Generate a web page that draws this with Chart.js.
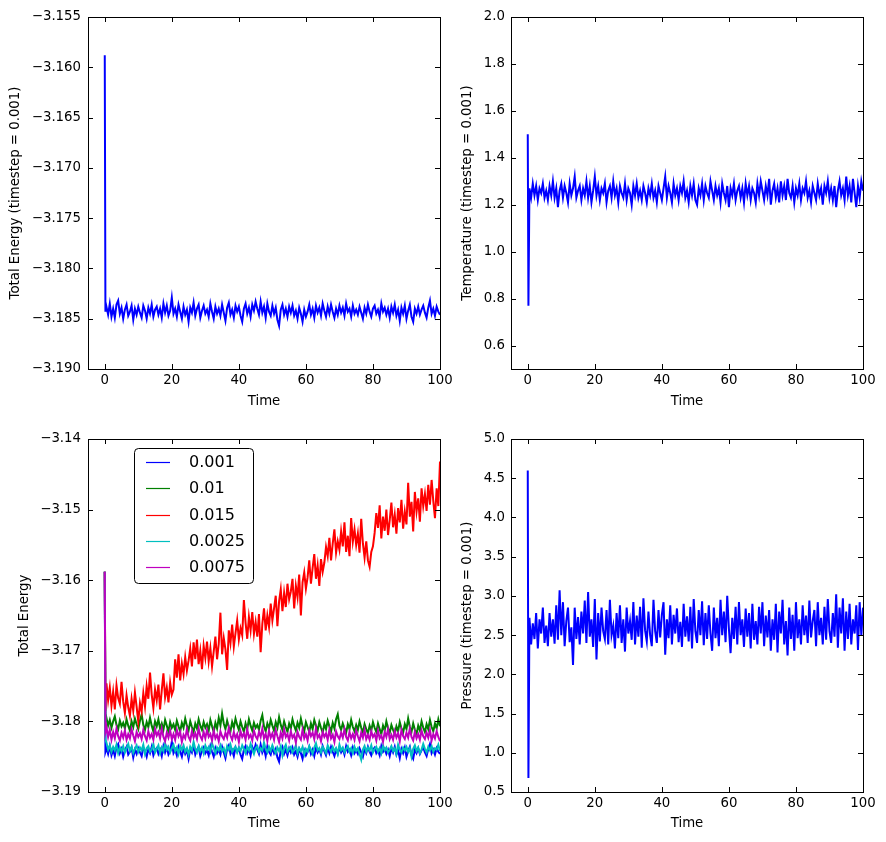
<!DOCTYPE html>
<html>
<head>
<meta charset="utf-8">
<script src="https://cdn.jsdelivr.net/npm/chart.js@4.4.0/dist/chart.umd.min.js"></script>
<style>
    html, body { margin: 0; padding: 0; background: #ffffff; }
    #wrap { position: relative; width: 886px; height: 842px; }
    #wrap canvas { position: absolute; left: 0; top: 0; }
</style>
</head>
<body>
<div id="wrap">
    <canvas id="energyChart" width="886" height="842"></canvas>
    <canvas id="tempChart" width="886" height="842"></canvas>
    <canvas id="compareChart" width="886" height="842"></canvas>
    <canvas id="pressureChart" width="886" height="842"></canvas>
</div>
<script>
// ================= data ======================
// sample times: the start spike, then every 0.5 time units
var startTimes = [0, 0.2];
var timeStep = 0.5;
var timeEnd = 100;

var xTicks = [0, 20, 40, 60, 80, 100];
var energyTicks = [-3.190, -3.185, -3.180, -3.175, -3.170, -3.165, -3.160, -3.155];
var tempTicks = [0.6, 0.8, 1.0, 1.2, 1.4, 1.6, 1.8, 2.0];
var compareTicks = [-3.19, -3.18, -3.17, -3.16, -3.15, -3.14];
var pressureTicks = [0.5, 1.0, 1.5, 2.0, 2.5, 3.0, 3.5, 4.0, 4.5, 5.0];

var timestepLabels = ['0.001', '0.01', '0.015', '0.0025', '0.0075'];

var energy0001 = [-3.1588, -3.1843,
    -3.1838, -3.1846, -3.1835, -3.1848, -3.1840, -3.1849, -3.1836, -3.1832, -3.1845, -3.1839,
    -3.1850, -3.1841, -3.1836, -3.1847, -3.1843, -3.1837, -3.1851, -3.1840, -3.1846, -3.1838,
    -3.1844, -3.1849, -3.1837, -3.1842, -3.1850, -3.1839, -3.1845, -3.1836, -3.1848, -3.1841,
    -3.1838, -3.1846, -3.1840, -3.1849, -3.1835, -3.1844, -3.1837, -3.1847, -3.1842, -3.1829,
    -3.1845, -3.1840, -3.1848, -3.1836, -3.1843, -3.1850, -3.1838, -3.1846, -3.1841, -3.1853,
    -3.1839, -3.1844, -3.1834, -3.1847, -3.1840, -3.1836, -3.1849, -3.1842, -3.1837, -3.1845,
    -3.1841, -3.1848, -3.1835, -3.1843, -3.1850, -3.1838, -3.1845, -3.1840, -3.1847, -3.1836,
    -3.1844, -3.1852, -3.1839, -3.1834, -3.1846, -3.1841, -3.1849, -3.1837, -3.1843, -3.1838,
    -3.1847, -3.1853, -3.1840, -3.1835, -3.1845, -3.1839, -3.1848, -3.1836, -3.1842, -3.1833,
    -3.1840, -3.1846, -3.1833, -3.1844, -3.1838, -3.1849, -3.1835, -3.1843, -3.1847, -3.1837,
    -3.1845, -3.1839, -3.1851, -3.1857, -3.1841, -3.1836, -3.1846, -3.1840, -3.1848, -3.1838,
    -3.1844, -3.1837, -3.1847, -3.1842, -3.1850, -3.1839, -3.1845, -3.1853, -3.1841, -3.1848,
    -3.1843, -3.1836, -3.1846, -3.1840, -3.1849, -3.1837, -3.1844, -3.1839, -3.1847, -3.1835,
    -3.1842, -3.1848, -3.1838, -3.1845, -3.1836, -3.1843, -3.1849, -3.1840, -3.1846, -3.1837,
    -3.1844, -3.1839, -3.1847, -3.1835, -3.1843, -3.1840, -3.1848, -3.1837, -3.1845, -3.1841,
    -3.1846, -3.1838, -3.1844, -3.1850, -3.1839, -3.1845, -3.1836, -3.1843, -3.1848, -3.1840,
    -3.1837, -3.1845, -3.1841, -3.1848, -3.1835, -3.1843, -3.1839, -3.1846, -3.1840, -3.1849,
    -3.1838, -3.1844, -3.1836, -3.1847, -3.1841, -3.1852, -3.1839, -3.1845, -3.1837, -3.1850,
    -3.1842, -3.1836, -3.1848, -3.1853, -3.1840, -3.1845, -3.1838, -3.1846, -3.1841, -3.1837,
    -3.1844, -3.1849, -3.1839, -3.1832, -3.1845, -3.1840, -3.1847, -3.1838, -3.1843, -3.1846];

var energy001 = [-3.1588, -3.1800,
    -3.1795, -3.1806, -3.1798, -3.1809, -3.1800, -3.1793, -3.1805, -3.1811, -3.1799, -3.1807,
    -3.1802, -3.1810, -3.1797, -3.1806, -3.1813, -3.1800, -3.1808, -3.1796, -3.1804, -3.1811,
    -3.1799, -3.1790, -3.1805, -3.1812, -3.1801, -3.1808, -3.1795, -3.1806, -3.1814, -3.1800,
    -3.1807, -3.1797, -3.1810, -3.1803, -3.1812, -3.1798, -3.1806, -3.1815, -3.1801, -3.1809,
    -3.1804, -3.1812, -3.1799, -3.1807, -3.1814, -3.1802, -3.1809, -3.1796, -3.1806, -3.1813,
    -3.1800, -3.1808, -3.1815, -3.1803, -3.1810, -3.1797, -3.1806, -3.1812, -3.1801, -3.1809,
    -3.1804, -3.1813, -3.1798, -3.1807, -3.1815, -3.1802, -3.1810, -3.1795, -3.1806, -3.1789,
    -3.1803, -3.1811, -3.1799, -3.1808, -3.1814, -3.1801, -3.1809, -3.1796, -3.1805, -3.1812,
    -3.1800, -3.1808, -3.1815, -3.1803, -3.1811, -3.1797, -3.1806, -3.1813, -3.1802, -3.1809,
    -3.1805, -3.1812, -3.1799, -3.1791, -3.1807, -3.1814, -3.1803, -3.1810, -3.1798, -3.1806,
    -3.1813, -3.1801, -3.1809, -3.1794, -3.1805, -3.1812, -3.1800, -3.1808, -3.1815, -3.1803,
    -3.1810, -3.1797, -3.1806, -3.1813, -3.1802, -3.1809, -3.1796, -3.1807, -3.1814, -3.1801,
    -3.1808, -3.1815, -3.1803, -3.1811, -3.1798, -3.1806, -3.1813, -3.1801, -3.1809, -3.1816,
    -3.1804, -3.1811, -3.1799, -3.1807, -3.1814, -3.1802, -3.1810, -3.1797, -3.1790, -3.1806,
    -3.1812, -3.1803, -3.1810, -3.1816, -3.1804, -3.1811, -3.1798, -3.1808, -3.1814, -3.1805,
    -3.1812, -3.1800, -3.1809, -3.1816, -3.1804, -3.1811, -3.1817, -3.1806, -3.1813, -3.1801,
    -3.1809, -3.1815, -3.1803, -3.1811, -3.1818, -3.1806, -3.1813, -3.1800, -3.1810, -3.1816,
    -3.1805, -3.1812, -3.1818, -3.1807, -3.1814, -3.1801, -3.1810, -3.1816, -3.1804, -3.1811,
    -3.1796, -3.1808, -3.1815, -3.1803, -3.1812, -3.1818, -3.1806, -3.1813, -3.1800, -3.1809,
    -3.1815, -3.1804, -3.1811, -3.1798, -3.1808, -3.1814, -3.1803, -3.1810, -3.1797, -3.1807];

var energy0015 = [-3.1588, -3.1785,
    -3.1746, -3.1770, -3.1752, -3.1778, -3.1758, -3.1783, -3.1749, -3.1767, -3.1775, -3.1744,
    -3.1772, -3.1788, -3.1763, -3.1780, -3.1792, -3.1768, -3.1785, -3.1759, -3.1779, -3.1800,
    -3.1774, -3.1786, -3.1760, -3.1779, -3.1750, -3.1768, -3.1731, -3.1762, -3.1781, -3.1755,
    -3.1770, -3.1748, -3.1783, -3.1756, -3.1732, -3.1766, -3.1752, -3.1773, -3.1745, -3.1762,
    -3.1755, -3.1712, -3.1738, -3.1705, -3.1742, -3.1718, -3.1733, -3.1709, -3.1728, -3.1714,
    -3.1697, -3.1722, -3.1688, -3.1712, -3.1684, -3.1719, -3.1700, -3.1726, -3.1693, -3.1710,
    -3.1687, -3.1715, -3.1696, -3.1722, -3.1701, -3.1680, -3.1712, -3.1690, -3.1646, -3.1705,
    -3.1682, -3.1698, -3.1727, -3.1671, -3.1689, -3.1663, -3.1694, -3.1675, -3.1657, -3.1684,
    -3.1668, -3.1678, -3.1628, -3.1660, -3.1683, -3.1652, -3.1671, -3.1645, -3.1676, -3.1659,
    -3.1680, -3.1648, -3.1702, -3.1662, -3.1640, -3.1671, -3.1650, -3.1666, -3.1633, -3.1657,
    -3.1640, -3.1622, -3.1665, -3.1630, -3.1613, -3.1644, -3.1618, -3.1638, -3.1605, -3.1627,
    -3.1616, -3.1598, -3.1640, -3.1608, -3.1624, -3.1592, -3.1650, -3.1603, -3.1589, -3.1612,
    -3.1596, -3.1572, -3.1605, -3.1583, -3.1563, -3.1598, -3.1579, -3.1608, -3.1570, -3.1588,
    -3.1575, -3.1553, -3.1566, -3.1540, -3.1572, -3.1548, -3.1528, -3.1561, -3.1545, -3.1557,
    -3.1531, -3.1552, -3.1518, -3.1560, -3.1537, -3.1566, -3.1512, -3.1545, -3.1528, -3.1550,
    -3.1534, -3.1561, -3.1513, -3.1548, -3.1568, -3.1545, -3.1572, -3.1581, -3.1560, -3.1552,
    -3.1533, -3.1505, -3.1526, -3.1494, -3.1541, -3.1510, -3.1530, -3.1500, -3.1536, -3.1515,
    -3.1490, -3.1525, -3.1507, -3.1534, -3.1498, -3.1518, -3.1486, -3.1527, -3.1503, -3.1521,
    -3.1462, -3.1510, -3.1489, -3.1531, -3.1475, -3.1503, -3.1484, -3.1517, -3.1470, -3.1495,
    -3.1478, -3.1502, -3.1465, -3.1493, -3.1458, -3.1488, -3.1512, -3.1470, -3.1495, -3.1432];

var energy00025 = [-3.1588, -3.1826,
    -3.1830, -3.1840, -3.1834, -3.1843, -3.1836, -3.1841, -3.1833, -3.1845, -3.1837, -3.1842,
    -3.1835, -3.1844, -3.1838, -3.1832, -3.1842, -3.1836, -3.1845, -3.1839, -3.1834, -3.1843,
    -3.1837, -3.1841, -3.1833, -3.1846, -3.1838, -3.1835, -3.1843, -3.1840, -3.1832, -3.1844,
    -3.1839, -3.1834, -3.1845, -3.1837, -3.1842, -3.1831, -3.1840, -3.1836, -3.1844, -3.1838,
    -3.1833, -3.1842, -3.1837, -3.1846, -3.1835, -3.1840, -3.1834, -3.1843, -3.1838, -3.1847,
    -3.1836, -3.1841, -3.1829, -3.1839, -3.1844, -3.1835, -3.1842, -3.1837, -3.1845, -3.1834,
    -3.1840, -3.1836, -3.1843, -3.1831, -3.1838, -3.1845, -3.1837, -3.1841, -3.1834, -3.1842,
    -3.1838, -3.1846, -3.1835, -3.1840, -3.1833, -3.1843, -3.1839, -3.1836, -3.1844, -3.1837,
    -3.1842, -3.1834, -3.1839, -3.1845, -3.1836, -3.1841, -3.1832, -3.1840, -3.1846, -3.1838,
    -3.1835, -3.1843, -3.1838, -3.1841, -3.1830, -3.1839, -3.1844, -3.1836, -3.1842, -3.1834,
    -3.1840, -3.1845, -3.1837, -3.1842, -3.1835, -3.1848, -3.1838, -3.1833, -3.1843, -3.1839,
    -3.1836, -3.1844, -3.1840, -3.1834, -3.1845, -3.1838, -3.1842, -3.1836, -3.1847, -3.1839,
    -3.1843, -3.1835, -3.1840, -3.1846, -3.1837, -3.1831, -3.1841, -3.1838, -3.1844, -3.1836,
    -3.1840, -3.1845, -3.1834, -3.1839, -3.1843, -3.1836, -3.1842, -3.1838, -3.1846, -3.1833,
    -3.1841, -3.1837, -3.1844, -3.1839, -3.1835, -3.1843, -3.1838, -3.1845, -3.1836, -3.1842,
    -3.1838, -3.1846, -3.1854, -3.1840, -3.1835, -3.1843, -3.1837, -3.1841, -3.1834, -3.1844,
    -3.1839, -3.1836, -3.1843, -3.1838, -3.1845, -3.1834, -3.1841, -3.1837, -3.1844, -3.1840,
    -3.1835, -3.1842, -3.1838, -3.1846, -3.1833, -3.1840, -3.1844, -3.1837, -3.1841, -3.1836,
    -3.1843, -3.1838, -3.1850, -3.1839, -3.1834, -3.1842, -3.1837, -3.1845, -3.1840, -3.1832,
    -3.1839, -3.1844, -3.1836, -3.1841, -3.1835, -3.1843, -3.1838, -3.1840, -3.1833, -3.1842];

var energy00075 = [-3.1588, -3.1815,
    -3.1808, -3.1822, -3.1812, -3.1826, -3.1815, -3.1824, -3.1810, -3.1821, -3.1827, -3.1816,
    -3.1823, -3.1813, -3.1826, -3.1818, -3.1824, -3.1811, -3.1820, -3.1828, -3.1815, -3.1822,
    -3.1817, -3.1825, -3.1812, -3.1821, -3.1827, -3.1814, -3.1823, -3.1818, -3.1826, -3.1811,
    -3.1820, -3.1815, -3.1824, -3.1810, -3.1822, -3.1828, -3.1816, -3.1823, -3.1813, -3.1825,
    -3.1818, -3.1826, -3.1812, -3.1821, -3.1815, -3.1829, -3.1819, -3.1824, -3.1811, -3.1822,
    -3.1827, -3.1814, -3.1823, -3.1817, -3.1825, -3.1810, -3.1821, -3.1826, -3.1815, -3.1824,
    -3.1812, -3.1822, -3.1818, -3.1827, -3.1813, -3.1824, -3.1819, -3.1828, -3.1814, -3.1821,
    -3.1825, -3.1816, -3.1823, -3.1809, -3.1820, -3.1826, -3.1815, -3.1824, -3.1818, -3.1829,
    -3.1814, -3.1822, -3.1817, -3.1826, -3.1811, -3.1823, -3.1819, -3.1827, -3.1813, -3.1821,
    -3.1825, -3.1815, -3.1822, -3.1810, -3.1824, -3.1818, -3.1828, -3.1813, -3.1823, -3.1817,
    -3.1826, -3.1812, -3.1821, -3.1829, -3.1816, -3.1824, -3.1811, -3.1822, -3.1818, -3.1827,
    -3.1814, -3.1823, -3.1819, -3.1830, -3.1815, -3.1822, -3.1826, -3.1812, -3.1824, -3.1818,
    -3.1827, -3.1813, -3.1821, -3.1816, -3.1825, -3.1810, -3.1823, -3.1819, -3.1828, -3.1815,
    -3.1822, -3.1817, -3.1826, -3.1812, -3.1824, -3.1819, -3.1829, -3.1814, -3.1821, -3.1825,
    -3.1816, -3.1823, -3.1811, -3.1822, -3.1827, -3.1815, -3.1824, -3.1818, -3.1826, -3.1813,
    -3.1821, -3.1828, -3.1816, -3.1823, -3.1812, -3.1825, -3.1819, -3.1826, -3.1814, -3.1822,
    -3.1818, -3.1827, -3.1813, -3.1824, -3.1820, -3.1829, -3.1815, -3.1822, -3.1811, -3.1825,
    -3.1819, -3.1826, -3.1814, -3.1823, -3.1817, -3.1828, -3.1812, -3.1821, -3.1825, -3.1816,
    -3.1823, -3.1810, -3.1822, -3.1827, -3.1815, -3.1824, -3.1818, -3.1826, -3.1813, -3.1821,
    -3.1825, -3.1816, -3.1823, -3.1812, -3.1827, -3.1818, -3.1824, -3.1814, -3.1822, -3.1828];

var temperature = [1.50, 0.77,
    1.27, 1.23, 1.29, 1.24, 1.28, 1.22, 1.27, 1.25, 1.29, 1.23,
    1.26, 1.22, 1.28, 1.24, 1.30, 1.23, 1.27, 1.19, 1.26, 1.29,
    1.23, 1.28, 1.25, 1.21, 1.29, 1.24, 1.27, 1.32, 1.23, 1.26,
    1.28, 1.22, 1.27, 1.24, 1.30, 1.23, 1.28, 1.21, 1.26, 1.32,
    1.24, 1.28, 1.22, 1.27, 1.25, 1.29, 1.21, 1.26, 1.28, 1.23,
    1.30, 1.24, 1.27, 1.21, 1.28, 1.25, 1.23, 1.29, 1.22, 1.27,
    1.25, 1.20, 1.28, 1.24, 1.29, 1.23, 1.26, 1.22, 1.28, 1.25,
    1.21, 1.27, 1.24, 1.29, 1.23, 1.26, 1.21, 1.28, 1.25, 1.22,
    1.27, 1.32, 1.23, 1.28, 1.25, 1.21, 1.29, 1.24, 1.27, 1.22,
    1.28, 1.25, 1.30, 1.23, 1.26, 1.21, 1.28, 1.24, 1.29, 1.22,
    1.20, 1.27, 1.24, 1.29, 1.22, 1.28, 1.25, 1.23, 1.30, 1.26,
    1.22, 1.28, 1.24, 1.27, 1.21, 1.29, 1.25, 1.22, 1.28, 1.19,
    1.27, 1.24, 1.29, 1.22, 1.26, 1.28, 1.23, 1.27, 1.21, 1.29,
    1.24, 1.28, 1.22, 1.27, 1.25, 1.21, 1.29, 1.24, 1.30, 1.26,
    1.22, 1.28, 1.24, 1.31, 1.20, 1.26, 1.29, 1.23, 1.27, 1.21,
    1.30, 1.24, 1.28, 1.22, 1.31, 1.25, 1.23, 1.28, 1.21, 1.27,
    1.24, 1.29, 1.22, 1.27, 1.25, 1.30, 1.23, 1.26, 1.21, 1.28,
    1.25, 1.22, 1.29, 1.24, 1.27, 1.20, 1.28, 1.25, 1.30, 1.23,
    1.27, 1.22, 1.28, 1.19, 1.26, 1.30, 1.24, 1.27, 1.22, 1.32,
    1.24, 1.28, 1.21, 1.31, 1.25, 1.19, 1.28, 1.23, 1.30, 1.26];

var pressure = [4.60, 0.68,
    2.72, 2.38, 2.65, 2.45, 2.78, 2.33, 2.70, 2.52, 2.85, 2.40,
    2.62, 2.36, 2.78, 2.48, 2.70, 2.39, 2.88, 2.44, 3.07, 2.50,
    2.92, 2.36, 2.68, 2.85, 2.41, 2.60, 2.12, 2.85, 2.45, 2.73,
    2.38, 2.80, 2.52, 2.94, 2.40, 3.05, 2.48, 2.70, 2.35, 2.96,
    2.19, 2.78, 2.42, 2.85, 2.55, 2.45, 2.82, 2.38, 2.95, 2.50,
    2.62, 2.33, 2.78, 2.46, 2.88, 2.40, 2.70, 2.29, 2.85, 2.52,
    2.68, 2.44, 2.92, 2.38, 2.75, 2.48, 2.86, 2.34, 2.97, 2.56,
    2.42, 2.80, 2.50, 2.36, 2.95, 2.55, 2.40, 2.82, 2.47, 2.76,
    2.92, 2.25, 2.70, 2.46, 2.88, 2.38, 2.76, 2.52, 2.84, 2.41,
    2.67, 2.35, 2.90, 2.48, 2.74, 2.42, 2.86, 2.33, 2.96, 2.55,
    2.40, 2.82, 2.50, 2.93, 2.37, 2.78, 2.45, 2.88, 2.52, 2.30,
    2.85, 2.46, 2.72, 2.36, 2.95, 2.50, 2.80, 2.41, 3.00, 2.58,
    2.27, 2.72, 2.45, 2.86, 2.38, 2.92, 2.50, 2.70, 2.35, 2.84,
    2.48, 2.78, 2.33, 2.90, 2.44, 2.68, 2.38, 2.86, 2.52, 2.92,
    2.36, 2.75, 2.47, 2.82, 2.30, 2.70, 2.44, 2.90, 2.28, 2.80,
    2.52, 2.95, 2.38, 2.68, 2.24, 2.85, 2.45, 2.76, 2.30, 2.92,
    2.46, 2.70, 2.38, 2.88, 2.50, 2.75, 2.40, 2.94, 2.47, 2.68,
    2.82, 2.36, 2.92, 2.50, 2.72, 2.38, 2.86, 2.44, 2.96, 2.55,
    2.40, 2.78, 2.48, 3.02, 2.34, 2.85, 2.52, 2.97, 2.30, 2.80,
    2.45, 2.90, 2.38, 2.70, 2.52, 2.88, 2.31, 2.92, 2.50, 2.85];

var times = startTimes.slice();
for (var k = 1; k * timeStep <= timeEnd; k++) {
    times.push(k * timeStep);
}

// ================= helpers ======================
var tickFont = { family: 'DejaVu Sans', size: 13.3 };
var mplColors = ['#0000ff', '#008000', '#ff0000', '#00bfbf', '#bf00bf'];

function toPoints(values) {
    return values.map(function (v, i) { return { x: times[i], y: v }; });
}

function fmt(v, digits) {
    return v.toFixed(digits).replace('-', '\u2212');
}

function setTicks(list) {
    return function (scale) {
        scale.ticks = list.map(function (v) { return { value: v }; });
    };
}

// black frame with inward ticks on all four sides (old matplotlib look)
var framePlugin = {
    id: 'frame',
    afterDraw: function (chart) {
        var ctx = chart.ctx, a = chart.chartArea;
        var xs = chart.scales.x, ys = chart.scales.y;
        ctx.save();
        ctx.strokeStyle = '#000000';
        ctx.lineWidth = 1;
        ctx.beginPath();
        xs.ticks.forEach(function (t) {
            var px = Math.round(xs.getPixelForValue(t.value)) + 0.5;
            ctx.moveTo(px, a.bottom); ctx.lineTo(px, a.bottom - 5);
            ctx.moveTo(px, a.top); ctx.lineTo(px, a.top + 5);
        });
        ys.ticks.forEach(function (t) {
            var py = Math.round(ys.getPixelForValue(t.value)) + 0.5;
            ctx.moveTo(a.left, py); ctx.lineTo(a.left + 5, py);
            ctx.moveTo(a.right, py); ctx.lineTo(a.right - 5, py);
        });
        ctx.stroke();
        ctx.strokeRect(a.left + 0.5, a.top + 0.5, a.right - a.left, a.bottom - a.top);
        ctx.restore();
    }
};

// boxed legend in the upper left of the comparison panel
var legendPlugin = {
    id: 'boxLegend',
    afterDraw: function (chart) {
        var ctx = chart.ctx, a = chart.chartArea;
        var x0 = a.left + 46, y0 = a.top + 9;
        ctx.save();
        ctx.fillStyle = '#ffffff';
        ctx.strokeStyle = '#000000';
        ctx.lineWidth = 1;
        ctx.beginPath();
        ctx.roundRect(x0 + 0.5, y0 + 0.5, 119, 135, 4);
        ctx.fill();
        ctx.stroke();
        ctx.font = '16px "DejaVu Sans"';
        ctx.textBaseline = 'middle';
        ctx.textAlign = 'left';
        timestepLabels.forEach(function (label, i) {
            var y = Math.round(y0 + 14 + i * 26.3) + 0.5;
            ctx.strokeStyle = mplColors[i];
            ctx.lineWidth = 1.2;
            ctx.beginPath();
            ctx.moveTo(x0 + 12, y);
            ctx.lineTo(x0 + 36, y);
            ctx.stroke();
            ctx.fillStyle = '#000000';
            ctx.fillText(label, x0 + 55, y);
        });
        ctx.restore();
    }
};

function drawPanel(canvasId, p, datasets, extraPlugins) {
    return new Chart(document.getElementById(canvasId).getContext('2d'), {
        type: 'line',
        data: { datasets: datasets },
        options: {
            responsive: false,
            animation: false,
            devicePixelRatio: 1,
            parsing: false,
            layout: {
                padding: { left: p.regionLeft, top: p.plotTop, right: 886 - p.plotRight, bottom: 842 - p.regionBottom }
            },
            elements: {
                point: { radius: 0 },
                line: { borderWidth: 2, tension: 0 }
            },
            plugins: {
                legend: { display: false },
                tooltip: { enabled: false }
            },
            scales: {
                x: {
                    type: 'linear',
                    min: -5,
                    max: 100,
                    afterBuildTicks: setTicks(xTicks),
                    afterFit: function (s) { s.height = p.regionBottom - p.plotBottom; },
                    grid: { display: false, drawTicks: false },
                    border: { display: false },
                    ticks: {
                        padding: 4, color: '#000000', font: tickFont, maxRotation: 0, autoSkip: false,
                        callback: function (v) { return fmt(v, 0); }
                    },
                    title: {
                        display: true, text: 'Time', color: '#000000', font: tickFont,
                        padding: { top: 0, bottom: p.xTitlePad }
                    }
                },
                y: {
                    type: 'linear',
                    min: p.yMin,
                    max: p.yMax,
                    afterBuildTicks: setTicks(p.yTicks),
                    afterFit: function (s) { s.width = p.plotLeft - p.regionLeft; },
                    grid: { display: false, drawTicks: false },
                    border: { display: false },
                    ticks: {
                        padding: p.yTickPad, color: '#000000', font: tickFont, autoSkip: false,
                        callback: function (v) { return fmt(v, p.digits); }
                    },
                    title: {
                        display: true, text: p.yTitle, color: '#000000', font: tickFont,
                        padding: { top: p.yTitlePad, bottom: 0 }
                    }
                }
            }
        },
        plugins: [framePlugin].concat(extraPlugins || [])
    });
}

function blueLine(values) {
    return [{ label: '0.001', data: toPoints(values), borderColor: mplColors[0], fill: false }];
}

// ================= panel 1: total energy ======================
drawPanel('energyChart', {
    regionLeft: 0, plotLeft: 88, plotRight: 440, plotTop: 17, plotBottom: 369, regionBottom: 421,
    yMin: -3.190, yMax: -3.155, yTicks: energyTicks, digits: 3,
    yTitle: 'Total Energy (timestep = 0.001)', yTitlePad: 8, yTickPad: 7, xTitlePad: 11
}, blueLine(energy0001));

// ================= panel 2: temperature ======================
drawPanel('tempChart', {
    regionLeft: 443, plotLeft: 511, plotRight: 863, plotTop: 17, plotBottom: 369, regionBottom: 421,
    yMin: 0.5, yMax: 2.0, yTicks: tempTicks, digits: 1,
    yTitle: 'Temperature (timestep = 0.001)', yTitlePad: 17, yTickPad: 6, xTitlePad: 11
}, blueLine(temperature));

// ================= panel 3: energy for each timestep ======================
var compareSeries = [energy0001, energy001, energy0015, energy00025, energy00075];
var compareSets = compareSeries.map(function (vals, i) {
    return {
        label: timestepLabels[i],
        data: toPoints(vals),
        borderColor: mplColors[i],
        fill: false,
        order: compareSeries.length - i
    };
});
drawPanel('compareChart', {
    regionLeft: 0, plotLeft: 88, plotRight: 440, plotTop: 439, plotBottom: 792, regionBottom: 842,
    yMin: -3.19, yMax: -3.14, yTicks: compareTicks, digits: 2,
    yTitle: 'Total Energy', yTitlePad: 17, yTickPad: 7, xTitlePad: 10
}, compareSets, [legendPlugin]);

// ================= panel 4: pressure ======================
drawPanel('pressureChart', {
    regionLeft: 443, plotLeft: 511, plotRight: 863, plotTop: 439, plotBottom: 792, regionBottom: 842,
    yMin: 0.5, yMax: 5.0, yTicks: pressureTicks, digits: 1,
    yTitle: 'Pressure (timestep = 0.001)', yTitlePad: 17, yTickPad: 6, xTitlePad: 10
}, blueLine(pressure));
</script>
</body>
</html>
